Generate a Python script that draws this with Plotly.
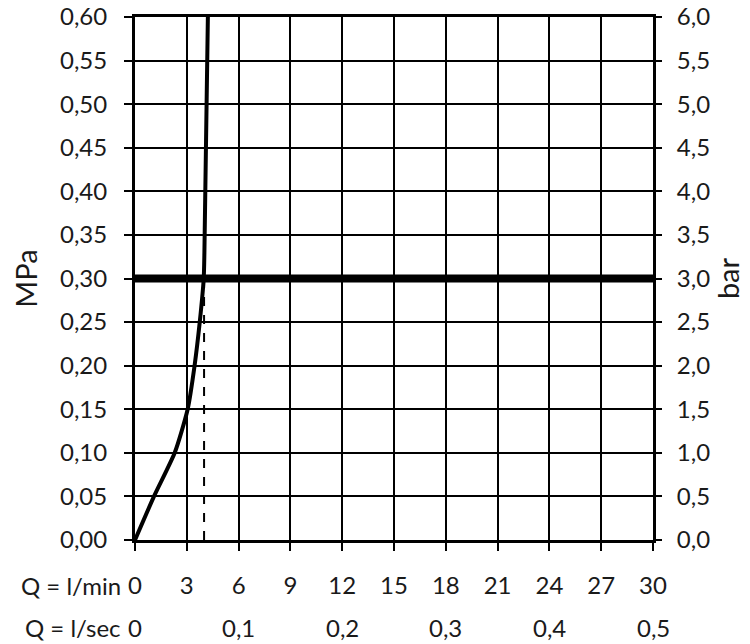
import plotly.graph_objects as go

# Flow curve (l/min vs MPa)
flow_lpm = [0, 1.1, 2.3, 3.05, 3.45, 3.75, 3.98, 4.02, 4.22]
press_mpa = [0, 0.05, 0.10, 0.15, 0.20, 0.25, 0.30, 0.33, 0.60]

# Reference pressure and flow at reference
ref_pressure = 0.30
ref_flow = 4.0

x_ticks = [0, 3, 6, 9, 12, 15, 18, 21, 24, 27, 30]
x_tick_text = ["0", "3", "6", "9", "12", "15", "18", "21", "24", "27", "30"]
sec_ticks = [0, 6, 12, 18, 24, 30]
sec_tick_text = ["0", "0,1", "0,2", "0,3", "0,4", "0,5"]
mpa_ticks = [0, 0.05, 0.10, 0.15, 0.20, 0.25, 0.30, 0.35, 0.40, 0.45, 0.50, 0.55, 0.60]
mpa_text = ["0,00", "0,05", "0,10", "0,15", "0,20", "0,25", "0,30", "0,35", "0,40", "0,45", "0,50", "0,55", "0,60"]
bar_ticks = [0, 0.5, 1.0, 1.5, 2.0, 2.5, 3.0, 3.5, 4.0, 4.5, 5.0, 5.5, 6.0]
bar_text = ["0,0", "0,5", "1,0", "1,5", "2,0", "2,5", "3,0", "3,5", "4,0", "4,5", "5,0", "5,5", "6,0"]

font_family = "Lato"
fs = 24
tcol = "#1a1a1a"

fig = go.Figure()
fig.add_trace(go.Scatter(x=[0, 30], y=[ref_pressure, ref_pressure], mode="lines",
                         line=dict(color="black", width=8), showlegend=False, hoverinfo="skip"))
fig.add_trace(go.Scatter(x=[ref_flow, ref_flow], y=[0, ref_pressure], mode="lines",
                         line=dict(color="black", width=2, dash="dash"), showlegend=False, hoverinfo="skip"))
fig.add_trace(go.Scatter(x=flow_lpm, y=press_mpa, mode="lines",
                         line=dict(color="black", width=4, shape="spline", smoothing=0.6),
                         showlegend=False, hoverinfo="skip"))
# invisible trace for right axis
fig.add_trace(go.Scatter(x=[0], y=[0], yaxis="y2", mode="markers", marker=dict(opacity=0),
                         showlegend=False, hoverinfo="skip"))

for xv, t in zip(sec_ticks, sec_tick_text):
    fig.add_annotation(x=xv, xref="x", y=0, yref="paper", yshift=-87, text=t, showarrow=False,
                       font=dict(family=font_family, size=fs, color=tcol), xanchor="center", yanchor="middle")

fig.add_annotation(x=0, xref="paper", y=0, yref="paper", xshift=-12, yshift=-45, text="Q = l/min", showarrow=False,
                   font=dict(family=font_family, size=fs, color=tcol), xanchor="right", yanchor="middle")
fig.add_annotation(x=0, xref="paper", y=0, yref="paper", xshift=-12, yshift=-87, text="Q = l/sec", showarrow=False,
                   font=dict(family=font_family, size=fs, color=tcol), xanchor="right", yanchor="middle")

fig.update_layout(
    width=742, height=636,
    margin=dict(l=127, r=97, t=9, b=104),
    paper_bgcolor="white", plot_bgcolor="white",
    font=dict(family=font_family, size=fs, color=tcol),
    xaxis=dict(range=[0, 30], tickvals=x_ticks, ticktext=x_tick_text, showgrid=True,
               gridcolor="black", gridwidth=2, showline=True, linecolor="black", linewidth=3,
               mirror=True, ticks="outside", ticklen=8, tickwidth=2, tickcolor="black",
               zeroline=False, fixedrange=True, automargin=False, ticklabelstandoff=14,
               ticklabeloverflow="allow"),
    yaxis=dict(range=[0, 0.6], tickvals=mpa_ticks, ticktext=mpa_text, showgrid=True,
               gridcolor="black", gridwidth=2, showline=True, linecolor="black", linewidth=3,
               mirror=True, ticks="outside", ticklen=8, tickwidth=2, tickcolor="black",
               zeroline=False, automargin=False, ticklabelstandoff=12, ticklabeloverflow="allow",
               title=dict(text="MPa", standoff=20)),
    yaxis2=dict(range=[0, 6], tickvals=bar_ticks, ticktext=bar_text, overlaying="y", side="right",
                showgrid=False, ticks="outside", ticklen=8, tickwidth=2, tickcolor="black",
                zeroline=False, automargin=False, ticklabelstandoff=10, ticklabeloverflow="allow",
                title=dict(text="bar", standoff=7)),
)

fig.write_html("out.html")
